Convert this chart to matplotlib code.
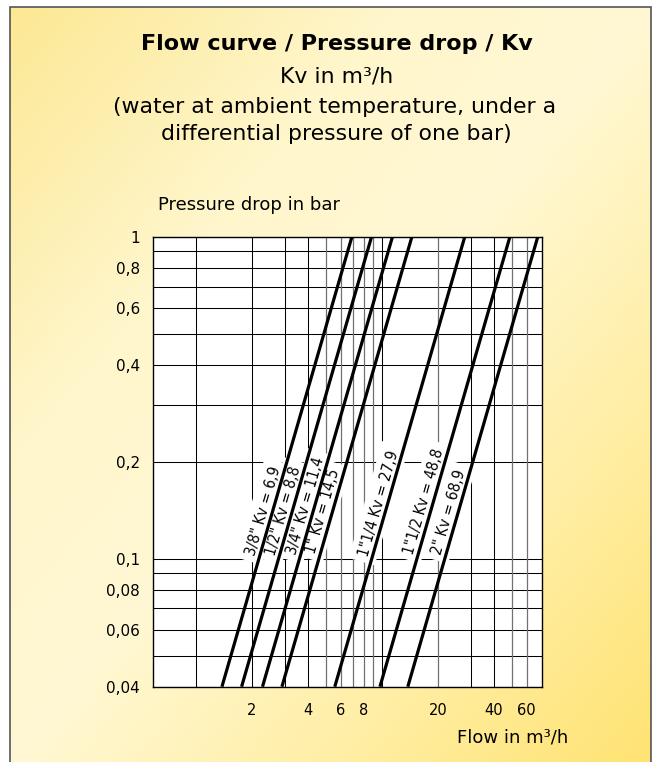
import numpy as np
import matplotlib
matplotlib.use("Agg")
import matplotlib.pyplot as plt
from matplotlib import font_manager
from matplotlib.colors import LinearSegmentedColormap
from matplotlib.patches import Rectangle
from matplotlib.ticker import NullLocator
from matplotlib.transforms import offset_copy

# valve sizes and their Kv (m3/h at 1 bar)
sizes = ['3/8"', '1/2"', '3/4"', '1"', '1"1/4', '1"1/2', '2"']
kv = [6.9, 8.8, 11.4, 14.5, 27.9, 48.8, 68.9]
kv_text = ['6,9', '8,8', '11,4', '14,5', '27,9', '48,8', '68,9']

# pressure drop range (bar)
dp_range = [0.04, 1.0]

y_ticks = [1, 0.8, 0.6, 0.4, 0.2, 0.1, 0.08, 0.06, 0.04]
y_ticklabels = ['1', '0,8', '0,6', '0,4', '0,2', '0,1', '0,08', '0,06', '0,04']
y_grid = [1, 0.9, 0.8, 0.7, 0.6, 0.5, 0.4, 0.3, 0.2, 0.1, 0.09, 0.08, 0.07, 0.06, 0.05, 0.04]

x_ticks = [2, 4, 6, 8, 20, 40, 60]
x_grid_dark = [1, 2, 3, 4, 10, 30, 40]
x_grid_light = [5, 6, 7, 8, 9, 20, 50, 60]

# where each label sits along its line (pressure drop)
label_dp = [0.138, 0.138, 0.143, 0.138, 0.146, 0.148, 0.137]

# a narrow face for the line labels if one is installed
narrow = [f for f in font_manager.fontManager.ttflist
          if f.stretch in ('condensed', 'semi-condensed', 'extra-condensed')
          and f.style == 'normal' and f.weight in (400, 'normal', 'regular')]
if narrow:
    label_font = font_manager.FontProperties(fname=narrow[0].fname, size=11)
else:
    label_font = font_manager.FontProperties(family='Liberation Sans', size=9.5)

W, H = 658, 762
fig = plt.figure(figsize=(W / 100, H / 100), dpi=100)
fig.patch.set_facecolor('white')

# yellow gradient panel
bg = fig.add_axes([10 / W, 0, 641 / W, 1 - 7 / H], zorder=-5)
gx, gy = np.meshgrid(np.linspace(0, 1, 300), np.linspace(0, 1, 300))
cmap = LinearSegmentedColormap.from_list('panel', [
    (0.0, (0.988, 0.91, 0.58)),
    (0.3, (1.0, 0.965, 0.80)),
    (0.5, (1.0, 0.972, 0.83)),
    (0.75, (1.0, 0.935, 0.65)),
    (1.0, (1.0, 0.89, 0.45)),
])
bg.imshow((gx + gy) / 2, cmap=cmap, aspect='auto', extent=[0, 1, 1, 0], vmin=0, vmax=1)
bg.set_xlim(0, 1)
bg.set_ylim(1, 0)
bg.axis('off')
fig.patches.append(Rectangle((10 / W, -0.01), 641 / W, 1.01 - 7 / H, transform=fig.transFigure,
                             fill=False, ec='#555555', lw=1.2, zorder=10))

# titles
fig.text(336.5 / W, 1 - 50 / H, 'Flow curve / Pressure drop / Kv', ha='center', va='baseline',
         fontsize=16, fontweight='bold')
fig.text(336.5 / W, 1 - 82 / H, 'Kv in m³/h', ha='center', va='baseline', fontsize=15.8)
fig.text(335 / W, 1 - 113 / H, '(water at ambient temperature, under a', ha='center',
         va='baseline', fontsize=15.8)
fig.text(336 / W, 1 - 140 / H, 'differential pressure of one bar)', ha='center',
         va='baseline', fontsize=15.8)
fig.text(158 / W, 1 - 210.5 / H, 'Pressure drop in bar', ha='left', va='baseline', fontsize=13)
fig.text(568 / W, 1 - 738 / H, 'Flow in m³/h', ha='right', va='center', fontsize=13)

ax = fig.add_axes([153.3 / W, 1 - 686.7 / H, 389 / W, 450 / H])
ax.set_facecolor('white')
ax.set_xscale('log')
ax.set_yscale('log')
ax.set_xlim(0.59, 72.85)
ax.set_ylim(dp_range)

ax.set_xticks(x_ticks, labels=[str(v) for v in x_ticks])
ax.set_yticks(y_ticks, labels=y_ticklabels)
ax.xaxis.set_minor_locator(NullLocator())
ax.yaxis.set_minor_locator(NullLocator())
ax.tick_params(axis='x', length=0, pad=12, labelsize=10.5)
ax.tick_params(axis='y', length=0, pad=9.5, labelsize=11)
for sp in ax.spines.values():
    sp.set_linewidth(1.0)
    sp.set_zorder(5)

for v in y_grid:
    ax.axhline(v, color='black', lw=0.75, zorder=1)
for v in x_grid_dark:
    ax.axvline(v, color='black', lw=0.75, zorder=1)
for v in x_grid_light:
    ax.axvline(v, color='#707070', lw=0.9, zorder=1)

dp = np.array(dp_range)
for k in kv:
    ax.plot(k * np.sqrt(dp), dp, color='black', lw=2.3, zorder=4, solid_capstyle='butt')

# label angle follows the lines on screen
p0 = ax.transData.transform((kv[0] * np.sqrt(dp[0]), dp[0]))
p1 = ax.transData.transform((kv[0] * np.sqrt(dp[1]), dp[1]))
ang = np.degrees(np.arctan2(p1[1] - p0[1], p1[0] - p0[0]))
off = offset_copy(ax.transData, fig=fig, x=-1.0 * np.sin(np.radians(ang)),
                  y=1.0 * np.cos(np.radians(ang)), units='points')

for s, k, t, d in zip(sizes, kv, kv_text, label_dp):
    ax.text(k * np.sqrt(d), d, f'{s} Kv = {t}', rotation=ang, rotation_mode='anchor',
            ha='center', va='bottom', transform=off, fontproperties=label_font,
            bbox=dict(boxstyle='square,pad=0.4', fc='white', ec='none'), zorder=3)

fig.savefig('out.png', dpi=100)
